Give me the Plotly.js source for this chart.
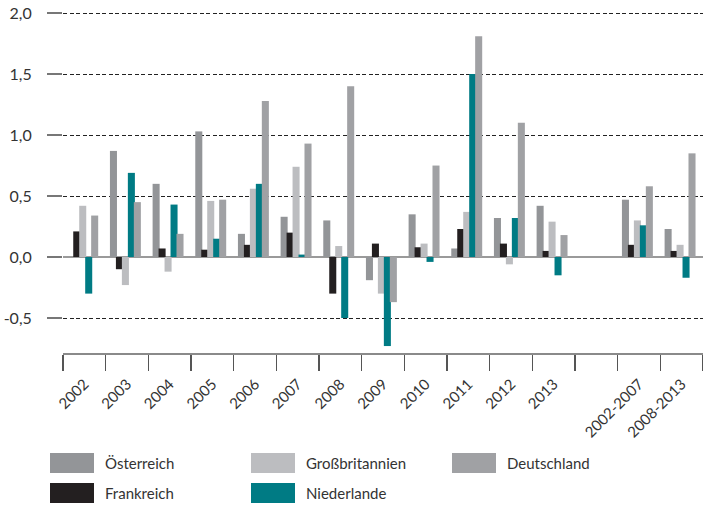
<!DOCTYPE html>
<html>
<head>
<meta charset="utf-8">
<script src="https://cdn.plot.ly/plotly-3.0.1.min.js"></script>
<style>html,body{margin:0;padding:0;background:#fff;}#chart{width:703px;height:506px;}</style>
</head>
<body>
<div id="chart"></div>
<script>
// ---- data ----
const categories = ["2002","2003","2004","2005","2006","2007","2008","2009","2010","2011","2012","2013"," ","2002-2007","2008-2013"];
const oesterreich    = [0.00, 0.87, 0.60, 1.03, 0.19, 0.33, 0.30, -0.19, 0.35, 0.07, 0.32, 0.42, null, 0.47, 0.23];
const frankreich     = [0.21, -0.10, 0.07, 0.06, 0.10, 0.20, -0.30, 0.11, 0.08, 0.23, 0.11, 0.05, null, 0.10, 0.05];
const grossbritannien= [0.42, -0.23, -0.12, 0.46, 0.56, 0.74, 0.09, -0.30, 0.11, 0.37, -0.06, 0.29, null, 0.30, 0.10];
const niederlande    = [-0.30, 0.69, 0.43, 0.15, 0.60, 0.02, -0.50, -0.73, -0.04, 1.50, 0.32, -0.15, null, 0.26, -0.17];
const deutschland    = [0.34, 0.45, 0.19, 0.47, 1.28, 0.93, 1.40, -0.37, 0.75, 1.81, 1.10, 0.18, null, 0.58, 0.85];
const seriesNames  = ["Österreich","Frankreich","Großbritannien","Niederlande","Deutschland"];
const seriesValues = [oesterreich, frankreich, grossbritannien, niederlande, deutschland];
const yTickVals = [-0.5, 0, 0.5, 1.0, 1.5, 2.0];
const yTickText = ["-0,5","0,0","0,5","1,0","1,5","2,0"];

// ---- style ----
const colors = ["#939598","#231f20","#bcbdc0","#007b84","#a0a1a4"];
const offsets = [-0.40,-0.26,-0.12,0.02,0.16];
const barW = 0.165;
const FONT = "Lato, 'Open Sans', sans-serif";
const TXT = "#333333";

const traces = seriesNames.map((n,i)=>({
  type:"bar", name:n, x:categories, y:seriesValues[i],
  marker:{color:colors[i], line:{width:0}},
  offset:offsets[i], width:barW, showlegend:false, hoverinfo:"skip"
}));

// pixel -> paper helpers for plot area
const L=63, T=7, W=640, H=346;
const px2x = p => (p-L)/W;
const py2y = p => (T+H-p)/H;

const legendItems = [
  {i:0, sx:50, ty:463}, {i:2, sx:251, ty:463}, {i:4, sx:452, ty:463},
  {i:1, sx:50, ty:493}, {i:3, sx:251, ty:493}
];
const shapes = [
  {type:"line", xref:"paper", yref:"y", x0:0, x1:1, y0:0, y1:0,
   line:{color:"#222", width:1, dash:"4px,2.5px"}, layer:"between"}
];
const annotations = [];
legendItems.forEach(it=>{
  shapes.push({type:"rect", xref:"paper", yref:"paper",
    x0:px2x(it.sx), x1:px2x(it.sx+44), y0:py2y(it.ty+10), y1:py2y(it.ty-10),
    fillcolor:colors[it.i], line:{width:0}});
  annotations.push({xref:"paper", yref:"paper", x:px2x(it.sx+53), y:py2y(it.ty),
    xanchor:"left", yanchor:"middle", showarrow:false, text:seriesNames[it.i],
    font:{family:FONT, size:15, color:TXT}});
});

const layout = {
  width:703, height:506,
  margin:{l:L, r:0, t:T, b:506-T-H},
  paper_bgcolor:"#fff", plot_bgcolor:"#fff",
  barmode:"overlay",
  separators:",.",
  showlegend:false,
  font:{family:FONT, size:15, color:TXT},
  xaxis:{
    type:"category", categoryorder:"array", categoryarray:categories,
    range:[-0.5, categories.length-0.5],
    showgrid:false, zeroline:false,
    showline:true, linecolor:"#8a8a8a", linewidth:1.5,
    ticks:"outside", ticklen:16, tickwidth:1.2, tickcolor:"#555",
    tickson:"boundaries", tickangle:-45,
    ticklabelstandoff:15,
    tickfont:{family:FONT, size:15, color:TXT}
  },
  yaxis:{
    range:[-0.787, 2.05],
    tickvals:yTickVals, ticktext:yTickText,
    showgrid:true, gridcolor:"#222", gridwidth:1, griddash:"4px,2.5px",
    zeroline:true, zerolinecolor:"#9a9a9a", zerolinewidth:2,
    showline:false,
    ticks:"outside", ticklen:15, tickwidth:1.5, tickcolor:"#777",
    ticklabelstandoff:12,
    tickfont:{family:FONT, size:16, color:TXT}
  },
  shapes:shapes,
  annotations:annotations
};

Plotly.newPlot("chart", traces, layout, {displayModeBar:false, staticPlot:true});
</script>
</body>
</html>
